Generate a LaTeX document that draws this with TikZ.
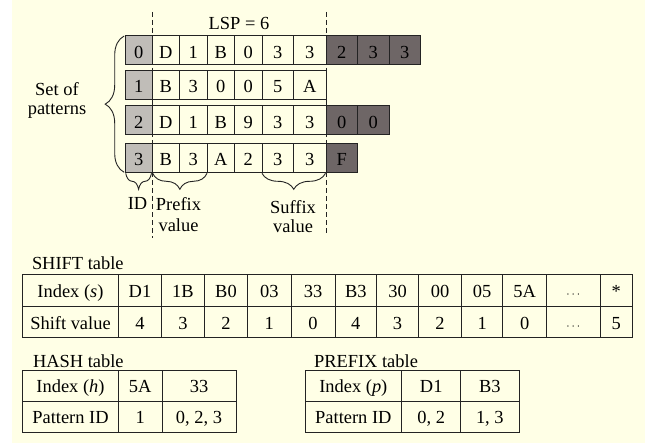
\documentclass[tikz,border=0pt]{standalone}
\usepackage{fontspec}
\setmainfont{Liberation Serif}
\usetikzlibrary{decorations.pathreplacing}
\definecolor{bgc}{RGB}{255,255,230}
\definecolor{idc}{RGB}{192,189,184}
\definecolor{dkc}{RGB}{110,102,102}
\definecolor{lnc}{RGB}{35,35,35}
\newcommand\mycell[7]{%
  \pgfmathsetmacro\mycw{#5-#3}%
  \pgfmathsetmacro\mych{#6-#4}%
  \node[#1, minimum width=\mycw bp, minimum height=\mych bp] (#2) at ({(#3+#5)/2},{(#4+#6)/2}) {#7};}
\begin{document}
\begin{tikzpicture}[x=1bp,y=-1bp,
  font=\fontsize{18.5}{21}\selectfont,
  cell/.style={draw=lnc, line width=1bp, inner sep=0pt, outer sep=0pt, text height=15bp, text depth=1bp, fill=bgc, text=black},
  pcell/.style={cell, text height=16bp, text depth=0bp},
  idcell/.style={pcell, fill=idc},
  dkcell/.style={pcell, fill=dkc, text=black},
  vdash/.style={draw=lnc, line width=0.9bp, dash pattern=on 5bp off 3bp},
  lbl/.style={inner sep=0pt, outer sep=0pt},
  brc/.style={draw=lnc, line width=0.9bp, decorate}
]
\useasboundingbox (0,0) rectangle (645,448);
\fill[white] (0,0) rectangle (645,448);
\fill[bgc] (12,0) rectangle (645,443);

% dashed guide lines
\coordinate (dlt) at (152,12);
\coordinate (dlb) at (152,238);
\coordinate (drt) at (326,12);
\coordinate (drb) at (326,233);
\draw[vdash] (dlt) -- (dlb);
\draw[vdash] (drt) -- (drb);

\node[lbl, anchor=base] (lsp) at (239,29.5) {LSP = 6};

% pattern rows
\foreach \ri/\yt/\ta/\tb/\tc/\td/\te/\tf/\tg in {0/36/0/D/1/B/0/3/3, 1/70.5/1/B/3/0/0/5/A, 2/106/2/D/1/B/9/3/3, 3/143.5/3/B/3/A/2/3/3}{
  \pgfmathsetmacro\yb{\yt+28.8}
  \mycell{idcell}{r\ri c0}{125.7}{\yt}{152}{\yb}{\ta}
  \mycell{pcell}{r\ri c1}{152}{\yt}{179.5}{\yb}{\tb}
  \mycell{pcell}{r\ri c2}{179.5}{\yt}{207}{\yb}{\tc}
  \mycell{pcell}{r\ri c3}{207}{\yt}{234.5}{\yb}{\td}
  \mycell{pcell}{r\ri c4}{234.5}{\yt}{262}{\yb}{\te}
  \mycell{pcell}{r\ri c5}{262}{\yt}{293.5}{\yb}{\tf}
  \mycell{pcell}{r\ri c6}{293.5}{\yt}{326}{\yb}{\tg}
}
\mycell{dkcell}{r0c7}{326}{36}{357.5}{64.8}{2}
\mycell{dkcell}{r0c8}{357.5}{36}{389}{64.8}{3}
\mycell{dkcell}{r0c9}{389}{36}{420.5}{64.8}{3}
\mycell{dkcell}{r2c7}{326}{106}{357.5}{134.8}{0}
\mycell{dkcell}{r2c8}{357.5}{106}{389}{134.8}{0}
\mycell{dkcell}{r3c7}{326}{143.5}{357.5}{172.3}{F}

% braces
\draw[brc, decoration={brace, amplitude=19bp}] ([xshift=-1.5bp]r3c0.south west) -- ([xshift=-1.5bp]r0c0.north west);
\draw[brc, decoration={brace, amplitude=16bp}] ([yshift=-1bp,xshift=-0.5bp]r3c0.south east) -- ([yshift=-1bp]r3c0.south west);
\draw[brc, decoration={brace, amplitude=16bp}] ([yshift=-1bp]r3c2.south east) -- ([yshift=-1bp,xshift=0.7bp]r3c1.south west);
\draw[brc, decoration={brace, amplitude=16bp}] ([yshift=-1bp,xshift=-0.5bp]r3c6.south east) -- ([yshift=-1bp]r3c5.south west);

\node[lbl, align=center, font=\fontsize{18.5}{20}\selectfont] (setp) at (57,100.5) {Set of\\patterns};
\node[lbl, anchor=base] (idl) at (137.5,210) {ID};
\node[lbl, align=center] (prel) at (178.5,214.2) {Prefix\\value};
\node[lbl, align=center, font=\fontsize{18.5}{19.5}\selectfont] (sufl) at (293,216.5) {Suffix\\value};

% SHIFT table
\node[lbl, anchor=base west] (shl) at (32,270) {SHIFT table};
\foreach \xa/\xb/\nm/\ta/\tb in {22.7/118.3/0/{Index (\textit{s})}/{Shift value},
  118.3/161.7/1/D1/4, 161.7/204.3/2/1B/3, 204.3/247.7/3/B0/2, 247.7/291/4/03/1,
  291/335/5/33/0, 335/376.7/6/B3/4, 376.7/418.3/7/30/3, 418.3/461.7/8/00/2,
  461.7/502.7/9/05/1, 502.7/546.7/10/5A/0,
  546.7/600/11/{\fontsize{12}{12}\selectfont$\cdots$}/{\fontsize{12}{12}\selectfont$\cdots$},
  600/632.3/12/*/5}{
  \mycell{cell}{sa\nm}{\xa}{275}{\xb}{306.7}{\ta}
  \mycell{cell}{sb\nm}{\xa}{306.7}{\xb}{337.7}{\tb}
}

% HASH table
\node[lbl, anchor=base west] (hhl) at (33,367.5) {HASH table};
\foreach \xa/\xb/\nm/\ta/\tb in {22.7/118.3/0/{Index (\textit{h})}/{Pattern ID},
  118.3/162/1/5A/1, 162/236/2/33/{0, 2, 3}}{
  \mycell{cell}{ha\nm}{\xa}{370}{\xb}{401}{\ta}
  \mycell{cell}{hb\nm}{\xa}{401}{\xb}{432}{\tb}
}

% PREFIX table
\node[lbl, anchor=base west] (pfl) at (314,367.5) {PREFIX table};
\foreach \xa/\xb/\nm/\ta/\tb in {305/401.7/0/{Index (\textit{p})}/{Pattern ID},
  401.7/460.7/1/D1/{0, 2}, 460.7/519/2/B3/{1, 3}}{
  \mycell{cell}{pa\nm}{\xa}{370}{\xb}{401}{\ta}
  \mycell{cell}{pb\nm}{\xa}{401}{\xb}{432}{\tb}
}
\end{tikzpicture}
\end{document}
